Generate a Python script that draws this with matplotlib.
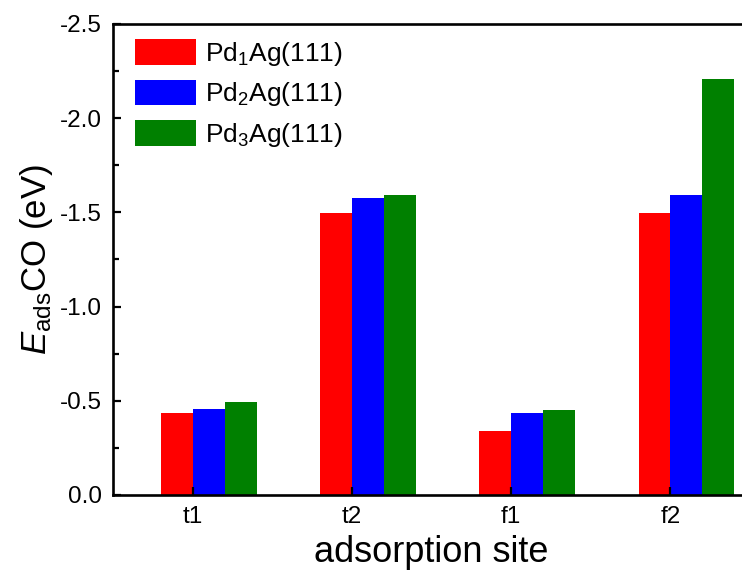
import matplotlib
matplotlib.use('agg')
import matplotlib.pyplot as plt
from matplotlib.ticker import MultipleLocator, FormatStrFormatter
import numpy as np

plt.rcParams['font.family'] = ['Liberation Sans', 'DejaVu Sans']
plt.rcParams['mathtext.fontset'] = 'custom'
plt.rcParams['mathtext.rm'] = 'Liberation Sans'
plt.rcParams['mathtext.it'] = 'Liberation Sans:italic'
plt.rcParams['axes.unicode_minus'] = False

# adsorption energies of CO (eV)
sites = ['t1', 't2', 'f1', 'f2']
pd1_ag = [-0.434, -1.498, -0.340, -1.498]
pd2_ag = [-0.457, -1.574, -0.436, -1.592]
pd3_ag = [-0.491, -1.590, -0.452, -2.207]
series_labels = ['Pd$_1$Ag(111)', 'Pd$_2$Ag(111)', 'Pd$_3$Ag(111)']
colors = ['#ff0000', '#0000ff', '#008000']

fig = plt.figure(figsize=(7.42, 5.79), dpi=100)
# right edge of the axes sits just outside the picture, as in the original
ax = fig.add_axes([0.1527, 0.1451, 0.858, 0.8135])

x = np.arange(len(sites))
w = 0.2
for k, (vals, lab, c) in enumerate(zip([pd1_ag, pd2_ag, pd3_ag], series_labels, colors)):
    ax.bar(x + (k - 0.5) * w, vals, width=w, color=c, label=lab, linewidth=0)

ax.set_xlim(-0.5, 3.5)
ax.set_ylim(0, -2.5)
ax.set_xticks(x)
ax.set_xticklabels(sites)
ax.yaxis.set_major_locator(MultipleLocator(0.5))
ax.yaxis.set_minor_locator(MultipleLocator(0.25))
ax.yaxis.set_major_formatter(FormatStrFormatter('%.1f'))

for s in ax.spines.values():
    s.set_linewidth(1.9)
ax.spines['right'].set_visible(False)

ax.tick_params(axis='both', which='major', direction='in', length=6, width=1.6,
               labelsize=17.5, pad=8, top=False, right=False)
ax.tick_params(axis='y', which='minor', direction='in', length=4, width=1.6, right=False)
ax.tick_params(axis='x', which='minor', bottom=False, top=False)

ax.set_xlabel('adsorption site', fontsize=26, labelpad=5)
ax.set_ylabel(r'$E_{\rm ads}$CO (eV)', fontsize=25, labelpad=4)

ax.legend(loc='upper left', frameon=False, fontsize=19, handlelength=2.3,
          handleheight=1.1, handletextpad=0.35, labelspacing=0.45,
          borderaxespad=0, bbox_to_anchor=(0.018, 0.99))

fig.savefig('out.png', dpi=100)
